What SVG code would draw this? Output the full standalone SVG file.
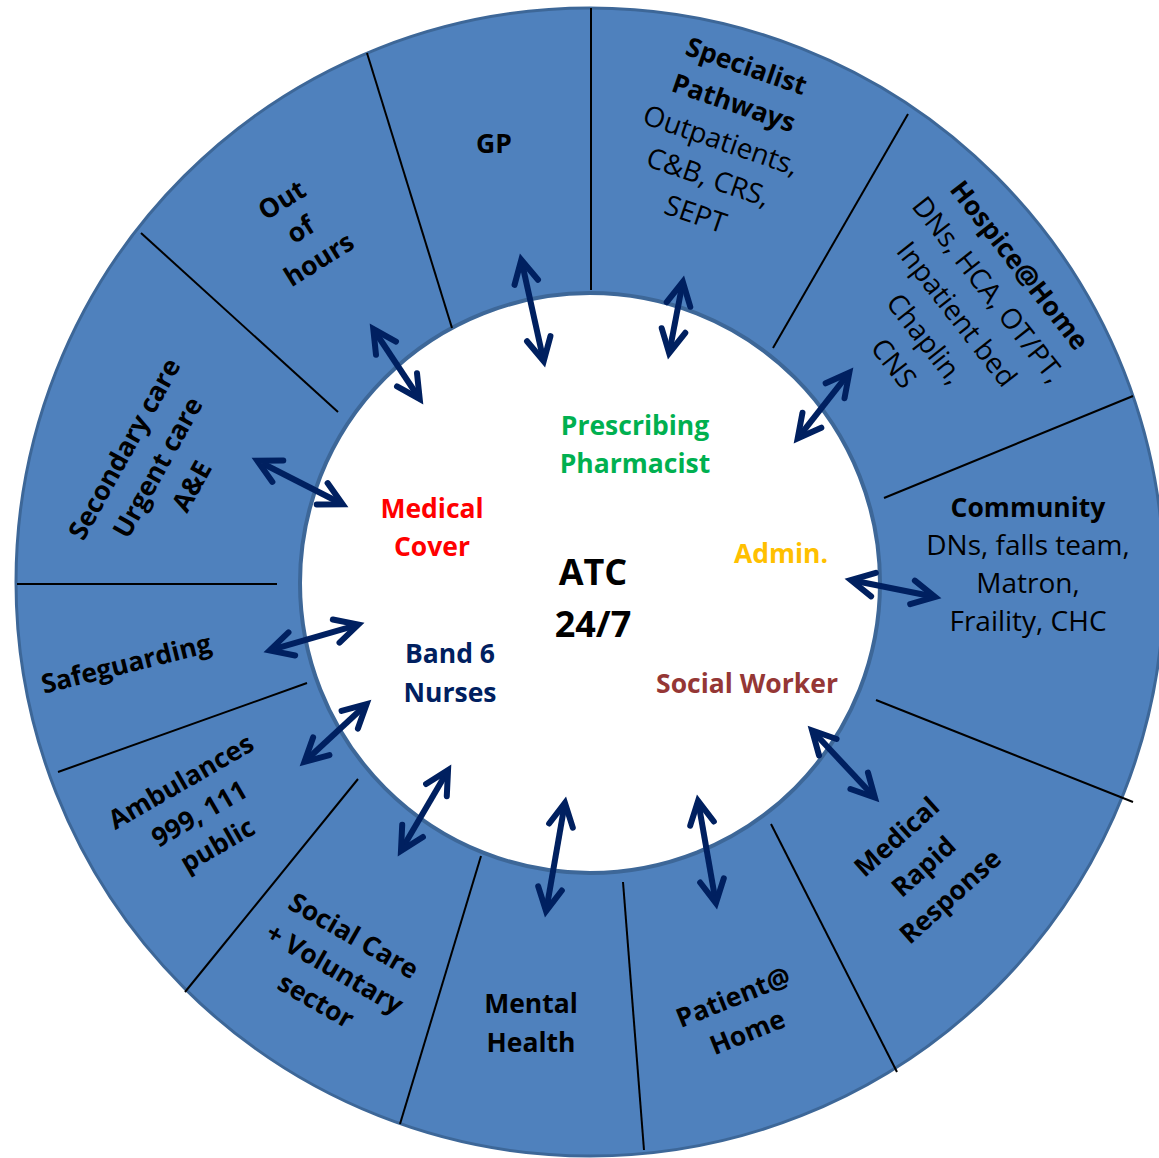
<svg xmlns="http://www.w3.org/2000/svg" width="1159" height="1158" viewBox="0 0 1159 1158">
<defs>
<style>
text{font-family:"Open Sans","Liberation Sans",sans-serif;font-size:28px;text-anchor:middle;fill:#000}
.b{font-weight:bold;font-size:26.5px}
.ctr{font-size:36px;font-weight:bold}
.div{stroke:#000;stroke-width:2}
.arr{stroke:#002060;stroke-width:6;fill:none;marker-start:url(#ah);marker-end:url(#ah)}
</style>
<marker id="ah" markerUnits="userSpaceOnUse" orient="auto-start-reverse" overflow="visible" markerWidth="40" markerHeight="40" refX="0" refY="0">
<path d="M-17,-12 L6,0 L-17,12" fill="none" stroke="#002060" stroke-width="6" stroke-linecap="round"/>
</marker>
</defs>
<rect width="1159" height="1158" fill="#fff"/>
<g id="ring">
<circle cx="590" cy="582" r="574" fill="#4f81bd" stroke="#3d6798" stroke-width="3"/>
<circle cx="590" cy="583" r="290" fill="#fff" stroke="#3d6798" stroke-width="4"/>
</g>
<g id="dividers">
<line class="div" x1="367" y1="53" x2="452" y2="328"/>
<line class="div" x1="141" y1="233" x2="338" y2="412"/>
<line class="div" x1="591" y1="8" x2="591" y2="290"/>
<line class="div" x1="908" y1="114" x2="773" y2="348"/>
<line class="div" x1="1133" y1="396" x2="884" y2="498"/>
<line class="div" x1="17" y1="584" x2="277" y2="584"/>
<line class="div" x1="58" y1="772" x2="307" y2="683"/>
<line class="div" x1="185" y1="992" x2="358" y2="779"/>
<line class="div" x1="400" y1="1124" x2="481" y2="856"/>
<line class="div" x1="644" y1="1150" x2="623" y2="882"/>
<line class="div" x1="897" y1="1072" x2="771" y2="824"/>
<line class="div" x1="1133" y1="802" x2="876" y2="700"/>
</g>
<g id="connectors">
<line class="arr" x1="262.7" y1="463.5" x2="337.3" y2="501.5"/>
<line class="arr" x1="376.6" y1="334" x2="416.4" y2="394"/>
<line class="arr" x1="522.6" y1="265.7" x2="542.4" y2="355.3"/>
<line class="arr" x1="681.7" y1="287.8" x2="670.3" y2="347.2"/>
<line class="arr" x1="845.6" y1="377.4" x2="801.4" y2="433.6"/>
<line class="arr" x1="856.8" y1="581.3" x2="929.2" y2="595.7"/>
<line class="arr" x1="816.2" y1="734.8" x2="870.8" y2="793.2"/>
<line class="arr" x1="699.1" y1="806.8" x2="714.9" y2="897.2"/>
<line class="arr" x1="563.9" y1="808.8" x2="547.1" y2="905.2"/>
<line class="arr" x1="445" y1="775.4" x2="404" y2="845.6"/>
<line class="arr" x1="362.2" y1="708.2" x2="308.8" y2="757.8"/>
<line class="arr" x1="275.5" y1="648.7" x2="352.5" y2="626.3"/>
</g>
<g id="centre">
<text class="ctr" x="593" y="585">ATC</text>
<text class="ctr" x="593" y="637">24/7</text>
</g>
<g id="prescribing-pharmacist">
<text class="b" x="635" y="435" style="fill:#00b050">Prescribing</text>
<text class="b" x="635" y="473" style="fill:#00b050">Pharmacist</text>
</g>
<g id="medical-cover">
<text class="b" x="432" y="518" style="fill:#ff0000">Medical</text>
<text class="b" x="432" y="556" style="fill:#ff0000">Cover</text>
</g>
<g id="admin">
<text class="b" x="781" y="563" style="fill:#ffc000">Admin.</text>
</g>
<g id="band6-nurses">
<text class="b" x="450" y="663" style="fill:#002060">Band 6</text>
<text class="b" x="450" y="702" style="fill:#002060">Nurses</text>
</g>
<g id="social-worker">
<text class="b" x="747" y="693" style="fill:#953735">Social Worker</text>
</g>
<g id="gp">
<text class="b" x="494" y="153">GP</text>
</g>
<g id="specialist-pathways" transform="translate(721,140) rotate(19)">
<text class="b" x="0" y="-69">Specialist</text>
<text class="b" x="0" y="-30">Pathways</text>
<text x="0" y="10">Outpatients,</text>
<text x="0" y="49">C&amp;B, CRS,</text>
<text x="0" y="88">SEPT</text>
</g>
<g id="hospice-at-home" transform="translate(957,314) rotate(52)">
<text class="b" x="0" y="-70">Hospice@Home</text>
<text x="0" y="-30">DNs, HCA, OT/PT,</text>
<text x="0" y="10">Inpatient bed</text>
<text x="0" y="50">Chaplin,</text>
<text x="0" y="90">CNS</text>
</g>
<g id="community">
<text class="b" x="1028" y="517">Community</text>
<text x="1028" y="555">DNs, falls team,</text>
<text x="1028" y="593">Matron,</text>
<text x="1028" y="631">Fraility, CHC</text>
</g>
<g id="medical-rapid-response" transform="translate(923,866) rotate(-42)">
<text class="b" x="0" y="-30">Medical</text>
<text class="b" x="0" y="10">Rapid</text>
<text class="b" x="0" y="50">Response</text>
</g>
<g id="patient-at-home" transform="translate(740,1014) rotate(-22)">
<text class="b" x="0" y="-9">Patient@</text>
<text class="b" x="0" y="29">Home</text>
</g>
<g id="mental-health">
<text class="b" x="531" y="1013">Mental</text>
<text class="b" x="531" y="1052">Health</text>
</g>
<g id="social-care" transform="translate(335,968) rotate(30)">
<text class="b" x="0" y="-28">Social Care</text>
<text class="b" x="0" y="10">+ Voluntary</text>
<text class="b" x="0" y="47">sector</text>
</g>
<g id="ambulances" transform="translate(199,813) rotate(-30)">
<text class="b" x="0" y="-27">Ambulances</text>
<text class="b" x="0" y="10">999, 111</text>
<text class="b" x="0" y="46">public</text>
</g>
<g id="safeguarding" transform="translate(126,663) rotate(-14)">
<text class="b" x="0" y="10">Safeguarding</text>
</g>
<g id="secondary-care" transform="translate(157,467) rotate(-61)">
<text class="b" x="0" y="-28">Secondary care</text>
<text class="b" x="0" y="10">Urgent care</text>
<text class="b" x="0" y="49">A&amp;E</text>
</g>
<g id="out-of-hours" transform="translate(300,229) rotate(-32)">
<text class="b" x="0" y="-25">Out</text>
<text class="b" x="0" y="10">of</text>
<text class="b" x="0" y="45">hours</text>
</g>
</svg>
